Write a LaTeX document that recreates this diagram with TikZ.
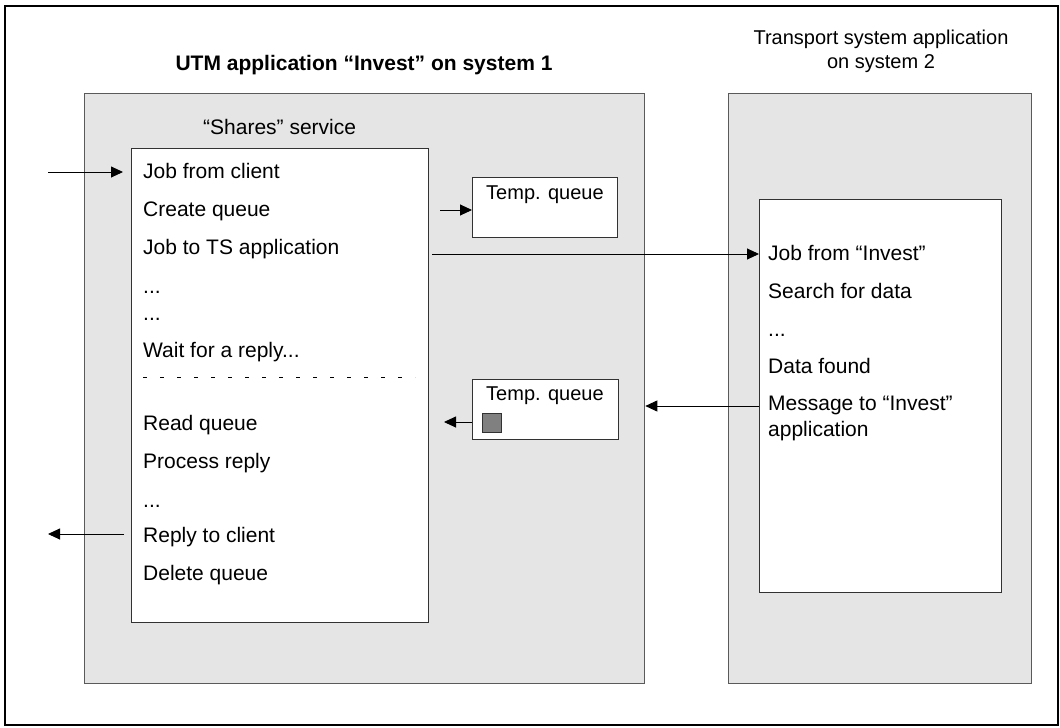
\documentclass[tikz,border=0pt]{standalone}
\usepackage{fontspec}
\setmainfont{Liberation Sans}
\usepackage{tikz}
\usetikzlibrary{arrows.meta,positioning}
\definecolor{panel}{RGB}{229, 229, 229}
\definecolor{panelline}{RGB}{90, 90, 90}
\definecolor{boxline}{RGB}{50, 50, 50}
\definecolor{entry}{RGB}{128, 128, 128}
\tikzstyle{appbox} = [rectangle, draw=panelline, line width=1.3pt, fill=panel, anchor=north west, inner sep=0pt]
\tikzstyle{servbox} = [rectangle, draw=boxline, line width=1pt, fill=white, anchor=north west, inner sep=0pt]
\tikzstyle{item} = [inner sep=0pt, text height=15pt, text depth=5pt, font=\fontsize{21}{26}\selectfont]
\tikzstyle{qtext} = [inner sep=0pt, anchor=base west, font=\fontsize{20}{24}\selectfont]
\tikzstyle{msgsq} = [rectangle, draw=boxline, line width=0.8pt, fill=entry, minimum size=19pt, inner sep=0pt]
\tikzstyle{tedge}  = [draw, line width=0.9pt, -{Triangle[length=12pt,width=11pt]}]

\begin{document}
\begin{tikzpicture}[x=1pt, y=-1pt]
\useasboundingbox (0,0) rectangle (1060,728);
\draw[line width=2pt] (5,6) rectangle (1058,725);

% applications =============================

\node[appbox, minimum width=560pt, minimum height=590pt] (invest) at (84,93) {};
\node[appbox, minimum width=303pt, minimum height=590pt] (tsapp) at (728,93) {};

\node[anchor=base, inner sep=0pt, font=\fontsize{21}{26}\selectfont\bfseries] (investtitle) at (364,70) {UTM application “Invest” on system 1};
\node[anchor=north, inner sep=0pt, align=center, font=\fontsize{20}{24}\selectfont] (tstitle) at (881,30) {Transport system application\\on system 2};

% service box
\node[servbox, minimum width=297pt, minimum height=474pt] (shares) at (131,148) {};
\node[item, anchor=base west] (sharestitle) at (203,134) {“Shares” service};

% left list
\node[item, anchor=base west] (job1) at (143,178) {Job from client};
\node[item, below=18pt of job1.south west, anchor=north west] (create) {Create queue};
\node[item, below=18pt of create.south west, anchor=north west] (jobts) {Job to TS application};
\node[item, below=18pt of jobts.south west, anchor=north west] (dots1) {...};
\node[item, below=7pt of dots1.south west, anchor=north west] (dots2) {...};
\node[item, below=16pt of dots2.south west, anchor=north west] (wait) {Wait for a reply...};
\draw[line width=0.9pt, dash pattern=on 4pt off 13pt] ([yshift=-20pt]wait.base west) -- ++(272,0);

\node[item, below=53pt of wait.south west, anchor=north west] (readq) {Read queue};
\node[item, below=18pt of readq.south west, anchor=north west] (process) {Process reply};
\node[item, below=18pt of process.south west, anchor=north west] (dots3) {...};
\node[item, below=15pt of dots3.south west, anchor=north west] (replyc) {Reply to client};
\node[item, below=17pt of replyc.south west, anchor=north west] (delq) {Delete queue};

% temporary queues
\node[servbox, minimum width=145pt, minimum height=60pt] (temp1) at (472,177) {};
\node[qtext] (temp1txt) at (486,199) {Temp. queue};
\node[servbox, minimum width=146pt, minimum height=60pt] (temp2) at (472,379) {};
\node[qtext] (temp2txt) at (486,400) {Temp. queue};
\node[msgsq] (msg) at (491.5,422.5) {};

% transport system box
\node[servbox, minimum width=242pt, minimum height=393pt] (tsbox) at (759,199) {};
\node[item, anchor=base west] (jobinv) at (768,260) {Job from “Invest”};
\node[item, below=18pt of jobinv.south west, anchor=north west] (search) {Search for data};
\node[item, below=18pt of search.south west, anchor=north west] (dots4) {...};
\node[item, below=16pt of dots4.south west, anchor=north west] (found) {Data found};
\node[item, below=17pt of found.south west, anchor=north west, align=left, text height=, text depth=] (msgto) {Message to “Invest”\\application};

% edges
\coordinate (clientin) at (48,172);
\coordinate (clientout) at (48,534);
\coordinate (newq) at (440,210);
\coordinate (tsjob) at (432,254);
\coordinate (answer) at (700,406);
\coordinate (fetch) at (444,422);

\path[tedge, shorten >=8pt] (clientin) -- (clientin -| shares.west);
\path[tedge, shorten <=7pt] (clientout -| shares.west) -- (clientout);
\path[tedge] (newq) -- (newq -| temp1.west);
\path[tedge] (tsjob) -- (tsjob -| tsbox.west);
\path[tedge] (answer -| tsbox.west) -- (answer -| invest.east);
\path[tedge] (fetch -| temp2.west) -- (fetch);

\end{tikzpicture}
\end{document}
